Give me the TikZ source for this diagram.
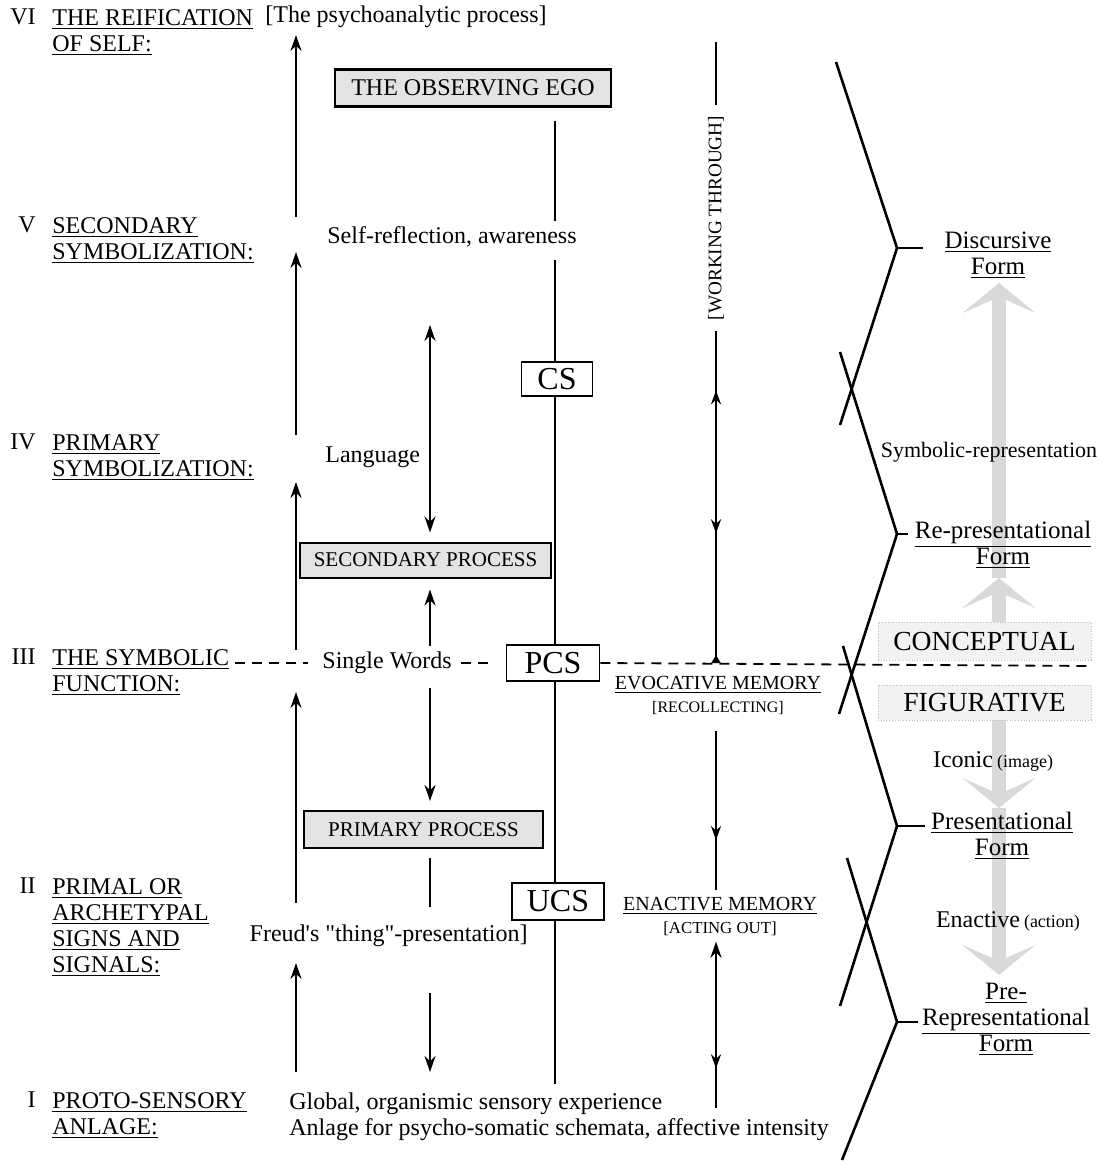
\documentclass[tikz,border=0pt]{standalone}
\usepackage{fontspec}
\setmainfont{Liberation Serif}[Ligatures=TeXOff]
\usetikzlibrary{arrows.meta,decorations.markings}

\begin{document}
\begin{tikzpicture}[x=0.5pt, y=-0.5pt,
  f/.style={font=\fontsize{#1}{13}\selectfont},
  lvl/.style={anchor=north west, inner sep=0pt, align=left, f=12},
  num/.style={anchor=east, inner sep=0pt, f=12},
  txt/.style={inner sep=0pt, f=12},
  egobox/.style={draw, line width=1.2pt, fill=gray!22, inner sep=0pt, f=12},
  procbox/.style={draw, line width=1pt, fill=gray!22, inner sep=0pt, f=10.5},
  sysbox/.style={draw, line width=0.9pt, fill=white, inner sep=0pt, f=16},
  modebox/.style={draw=gray!55, densely dotted, fill=gray!10, inner sep=0pt,
    minimum width=106.5pt, f=13.8},
  memo/.style={align=center, inner sep=0pt, font=\fontsize{10}{11.5}\selectfont},
  formlbl/.style={align=center, inner sep=0pt, f=12.5},
  stem/.style={line width=1.1pt},
  up/.style={stem, -{Stealth[length=8pt,width=5.5pt]}},
  dbl/.style={stem, {Stealth[length=8pt,width=5.5pt]}-{Stealth[length=8pt,width=5.5pt]}},
  midup/.style={postaction={decorate, decoration={markings,
    mark=at position #1 with {\arrowreversed{Stealth[length=7pt,width=5pt]}}}}},
  middown/.style={postaction={decorate, decoration={markings,
    mark=at position #1 with {\arrow{Stealth[length=7pt,width=5pt]}}}}},
  bracket/.style={line width=1.3pt},
  dashline/.style={line width=0.9pt, dash pattern=on 5pt off 3.5pt},
  bigarrow/.style={line width=7pt, draw=gray!30,
    -{Stealth[length=15pt,width=36.5pt,inset=8pt,line width=0pt]}}]
  \useasboundingbox (0,0) rectangle (1104,1165);

  % 左列：层级标题
  \node[num] (n6) at (36,17) {VI};
  \node[lvl] (l6) at (52,9) {\underline{THE REIFICATION}\\\underline{OF SELF:}};
  \node[num] (n5) at (36,225) {V};
  \node[lvl] (l5) at (52,217) {\underline{SECONDARY}\\\underline{SYMBOLIZATION:}};
  \node[num] (n4) at (36,442) {IV};
  \node[lvl] (l4) at (52,434) {\underline{PRIMARY}\\\underline{SYMBOLIZATION:}};
  \node[num] (n3) at (36,657) {III};
  \node[lvl] (l3) at (52,649) {\underline{THE SYMBOLIC}\\\underline{FUNCTION:}};
  \node[num] (n2) at (36,886) {II};
  \node[lvl] (l2) at (52,878) {\underline{PRIMAL OR}\\\underline{ARCHETYPAL}\\\underline{SIGNS AND}\\\underline{SIGNALS:}};
  \node[num] (n1) at (36,1100) {I};
  \node[lvl] (l1) at (52,1092) {\underline{PROTO-SENSORY}\\\underline{ANLAGE:}};

  % 左侧上升箭头
  \foreach \i/\a/\b in {1/1072/963, 2/903/692, 3/650/482, 4/435/252, 5/217/35} {
    \coordinate (L\i a) at (296,\a);
    \coordinate (L\i b) at (296,\b);
    \draw[up] (L\i a) -- (L\i b);
  }

  % 中列文字
  \node[txt, anchor=west] (psa) at (265,17) {[The psychoanalytic process]};
  \node[txt] (selfref) at (452,237) {Self-reflection, awareness};
  \node[txt, anchor=west] (lang) at (325,457) {Language};
  \node[txt, anchor=west] (words) at (322,663) {Single Words};
  \node[txt, anchor=east] (freud) at (528,936) {Freud's "thing"-presentation]};
  \node[txt, anchor=north west, align=left] (global) at (289,1092)
    {Global, organismic sensory experience\\Anlage for psycho-somatic schemata, affective intensity};

  % 方框
  \node[egobox, minimum width=138pt, minimum height=18.5pt] (ego) at (473,88) {THE OBSERVING EGO};
  \node[procbox, minimum width=125.5pt, minimum height=17.5pt] (secp) at (425.5,560) {SECONDARY PROCESS};
  \node[procbox, minimum width=119.5pt, minimum height=18.5pt] (prip) at (423.5,829.5) {PRIMARY PROCESS};
  \node[sysbox, minimum width=35.5pt, minimum height=17pt] (cs) at (557,379) {CS};
  \node[sysbox, minimum width=46.5pt, minimum height=18pt] (pcs) at (553,663) {PCS};
  \node[sysbox, minimum width=46pt, minimum height=18.5pt] (ucs) at (558,901.5) {UCS};

  % 语言与过程之间的箭头
  \coordinate (lx) at (430,325);
  \coordinate (cx) at (555,0);
  \draw[dbl, shorten >=4.5pt] (lx) -- (lx |- secp.north);
  \draw[up, shorten <=3pt, shorten >=5.5pt] (lx |- words.north) -- (lx |- secp.south);
  \draw[up, shorten <=7pt, shorten >=4.5pt] (lx |- words.south) -- (lx |- prip.north);
  \draw[line width=0.6pt, shorten <=4.5pt, shorten >=9pt] (lx |- prip.south) -- (lx |- freud.north);
  \draw[up, shorten <=23pt, shorten >=10pt] (lx |- freud.south) -- (lx |- global.north);

  % CS -- PCS -- UCS 竖线
  \draw[stem, shorten <=6.5pt, shorten >=2.5pt] (cx |- ego.south) -- (cx |- selfref.north);
  \draw[stem, shorten <=6pt] (cx |- selfref.south) -- (cx |- cs.north);
  \draw[stem] (cx |- cs.south) -- (cx |- pcs.north);
  \draw[stem] (cx |- pcs.south) -- (cx |- ucs.north);
  \draw[stem] (cx |- ucs.south) -- ++(0,163);

  % 象征功能虚线
  \coordinate (dashend) at (1092,666);
  \draw[dashline, shorten <=3pt, shorten >=7pt] (l3.east |- words) -- (words.west);
  \draw[dashline, shorten <=4.5pt, shorten >=5.5pt] (words.east) -- (pcs.west);
  \draw[dashline] (pcs.east) -- (dashend);

  % 修通 / 记忆
  \node[txt, rotate=90, inner sep=5pt, font=\fontsize{9.6}{10}\selectfont] (wt) at (716,218) {[WORKING THROUGH]};
  \node[memo] (evoc) at (718,695) {\underline{EVOCATIVE MEMORY}\\{\fontsize{8}{9}\selectfont[RECOLLECTING]}};
  \node[memo] (enmem) at (720,916) {\underline{ENACTIVE MEMORY}\\{\fontsize{8.4}{9}\selectfont[ACTING OUT]}};
  \coordinate (wttop) at (716,42);
  \draw[stem] (wttop) -- (wt.east);
  \draw[stem, midup=0.18, middown=0.61, -{Triangle[reversed,length=4pt,width=4.5pt]}]
    (wt.west) -- (wt.west |- pcs);
  \draw[stem, middown=0.69, shorten <=8pt, shorten >=3pt] (wt.west |- evoc.south) -- (wt.west |- enmem.north);
  \draw[stem, middown=0.77, {Stealth[length=8pt,width=5.5pt]}-, shorten <=3pt]
    (wt.west |- enmem.south) -- (716,1108);

  % 右侧灰色大箭头
  \draw[bigarrow] (999,578) -- (999,283);
  \draw[bigarrow] (999,624) -- (999,578);
  \draw[bigarrow] (999,720) -- (999,808);
  \draw[bigarrow] (999,808) -- (999,975);

  \node[modebox, minimum height=19pt] (concept) at (984.5,641) {CONCEPTUAL};
  \node[modebox, minimum height=17.5pt] (figur) at (984.5,702.5) {FIGURATIVE};

  % 右侧括号
  \coordinate (v1) at (897,248);
  \coordinate (v2) at (897,534);
  \coordinate (v3) at (897,826);
  \coordinate (v4) at (897,1022);
  \draw[bracket] (836,62) -- (v1) -- (840,425);
  \draw[bracket] (840,352) -- (v2) -- (839,714);
  \draw[bracket] (843,646) -- (v3) -- (840,1006);
  \draw[bracket] (847,858) -- (v4) -- (842,1160);
  \draw[bracket] (v1) -- ++(26,0);
  \draw[bracket] (v2) -- ++(11,0);
  \draw[bracket] (v3) -- ++(28,0);
  \draw[bracket] (v4) -- ++(21,0);

  % 表征形式
  \node[formlbl] (disc) at (998,255) {\underline{Discursive}\\\underline{Form}};
  \node[formlbl] (repr) at (1003,545) {\underline{Re-presentational}\\\underline{Form}};
  \node[formlbl] (pres) at (1002,836) {\underline{Presentational}\\\underline{Form}};
  \node[formlbl] (prerep) at (1006,1019) {\underline{Pre-}\\\underline{Representational}\\\underline{Form}};
  \node[txt, f=11] (symrep) at (989,452) {Symbolic-representation};
  \node[txt] (icon) at (993,761) {Iconic\,{\fontsize{9}{10}\selectfont(image)}};
  \node[txt] (enact) at (1008,921) {Enactive\,{\fontsize{9}{10}\selectfont(action)}};
\end{tikzpicture}
\end{document}
